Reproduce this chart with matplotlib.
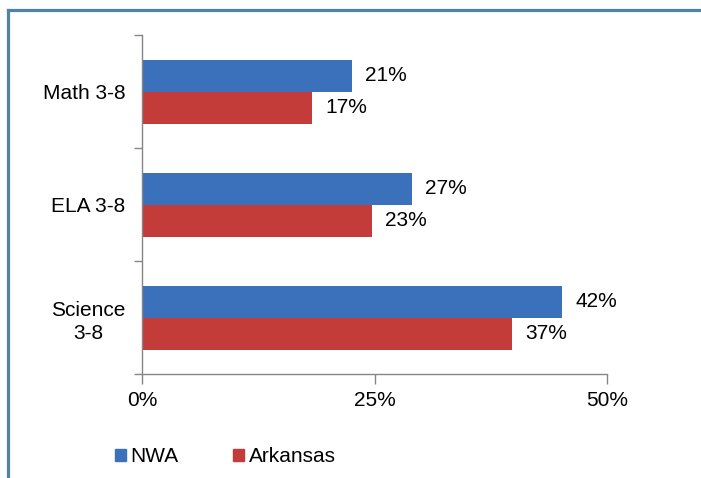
import matplotlib
matplotlib.use("Agg")
import matplotlib.pyplot as plt
from matplotlib.lines import Line2D
from matplotlib.patches import Patch
import numpy as np

plt.rcParams['font.family'] = ['Liberation Sans', 'DejaVu Sans']

categories = ["Math 3-8", "ELA 3-8", "Science\n3-8"]
series_names = ["NWA", "Arkansas"]
nwa = [21, 27, 42]
arkansas = [17, 23, 37]
x_tick_pos = [0, 23.25, 46.5]
x_tick_labels = ["0%", "25%", "50%"]
blue = "#3A71BA"
red = "#C43C3A"
FS = 15

W, H = 701, 478
fig = plt.figure(figsize=(W / 100, H / 100), dpi=100)
ax = fig.add_axes([142 / W, 1 - 374 / H, (607 - 142) / W, (374 - 35) / H])

n = len(categories)
y = np.arange(n)
h = 32 / 113
ax.barh(y - h / 2, nwa, height=h, color=blue, label=series_names[0])
ax.barh(y + h / 2, arkansas, height=h, color=red, label=series_names[1])

for yi, v in zip(y, nwa):
    ax.text(v + 1.3, yi - h / 2, f"{v}%", va="center", ha="left", fontsize=FS)
for yi, v in zip(y, arkansas):
    ax.text(v + 1.3, yi + h / 2, f"{v}%", va="center", ha="left", fontsize=FS)

ax.set_ylim(n - 0.5, -0.5)
ax.set_xlim(0, x_tick_pos[-1])
ax.set_xticks(x_tick_pos)
ax.set_xticklabels(x_tick_labels, fontsize=FS)
ax.set_yticks(np.arange(n + 1) - 0.5)
ax.set_yticklabels([])
ax.set_yticks(y, minor=True)
ax.set_yticklabels(categories, minor=True, fontsize=FS, ha="right",
                   multialignment="center", linespacing=1.3)
ax.tick_params(axis="y", which="minor", length=0, pad=12)
ax.tick_params(axis="y", which="major", length=6, color="#868686", width=1)
ax.tick_params(axis="x", length=7, color="#868686", width=1, pad=5)

for s in ["top", "right"]:
    ax.spines[s].set_visible(False)
for s in ["left", "bottom"]:
    ax.spines[s].set_color("#868686")
    ax.spines[s].set_linewidth(1)

handles = [Patch(color=blue), Patch(color=red)]
fig.legend(handles, series_names, loc="center left", bbox_to_anchor=(115 / W, 1 - 457 / H),
           ncol=2, frameon=False, fontsize=FS, handlelength=0.55, handleheight=0.55,
           handletextpad=0.2, columnspacing=2.6, borderaxespad=0, borderpad=0)

# outer frame
fc = "#4E83A5"
fig.add_artist(Line2D([7.5 / W, 7.5 / W], [1 - 9.5 / H, 0], color=fc, lw=2.3, transform=fig.transFigure))
fig.add_artist(Line2D([7.5 / W, 1], [1 - 9.5 / H, 1 - 9.5 / H], color=fc, lw=2.3, transform=fig.transFigure))

fig.savefig("out.png", dpi=100)
